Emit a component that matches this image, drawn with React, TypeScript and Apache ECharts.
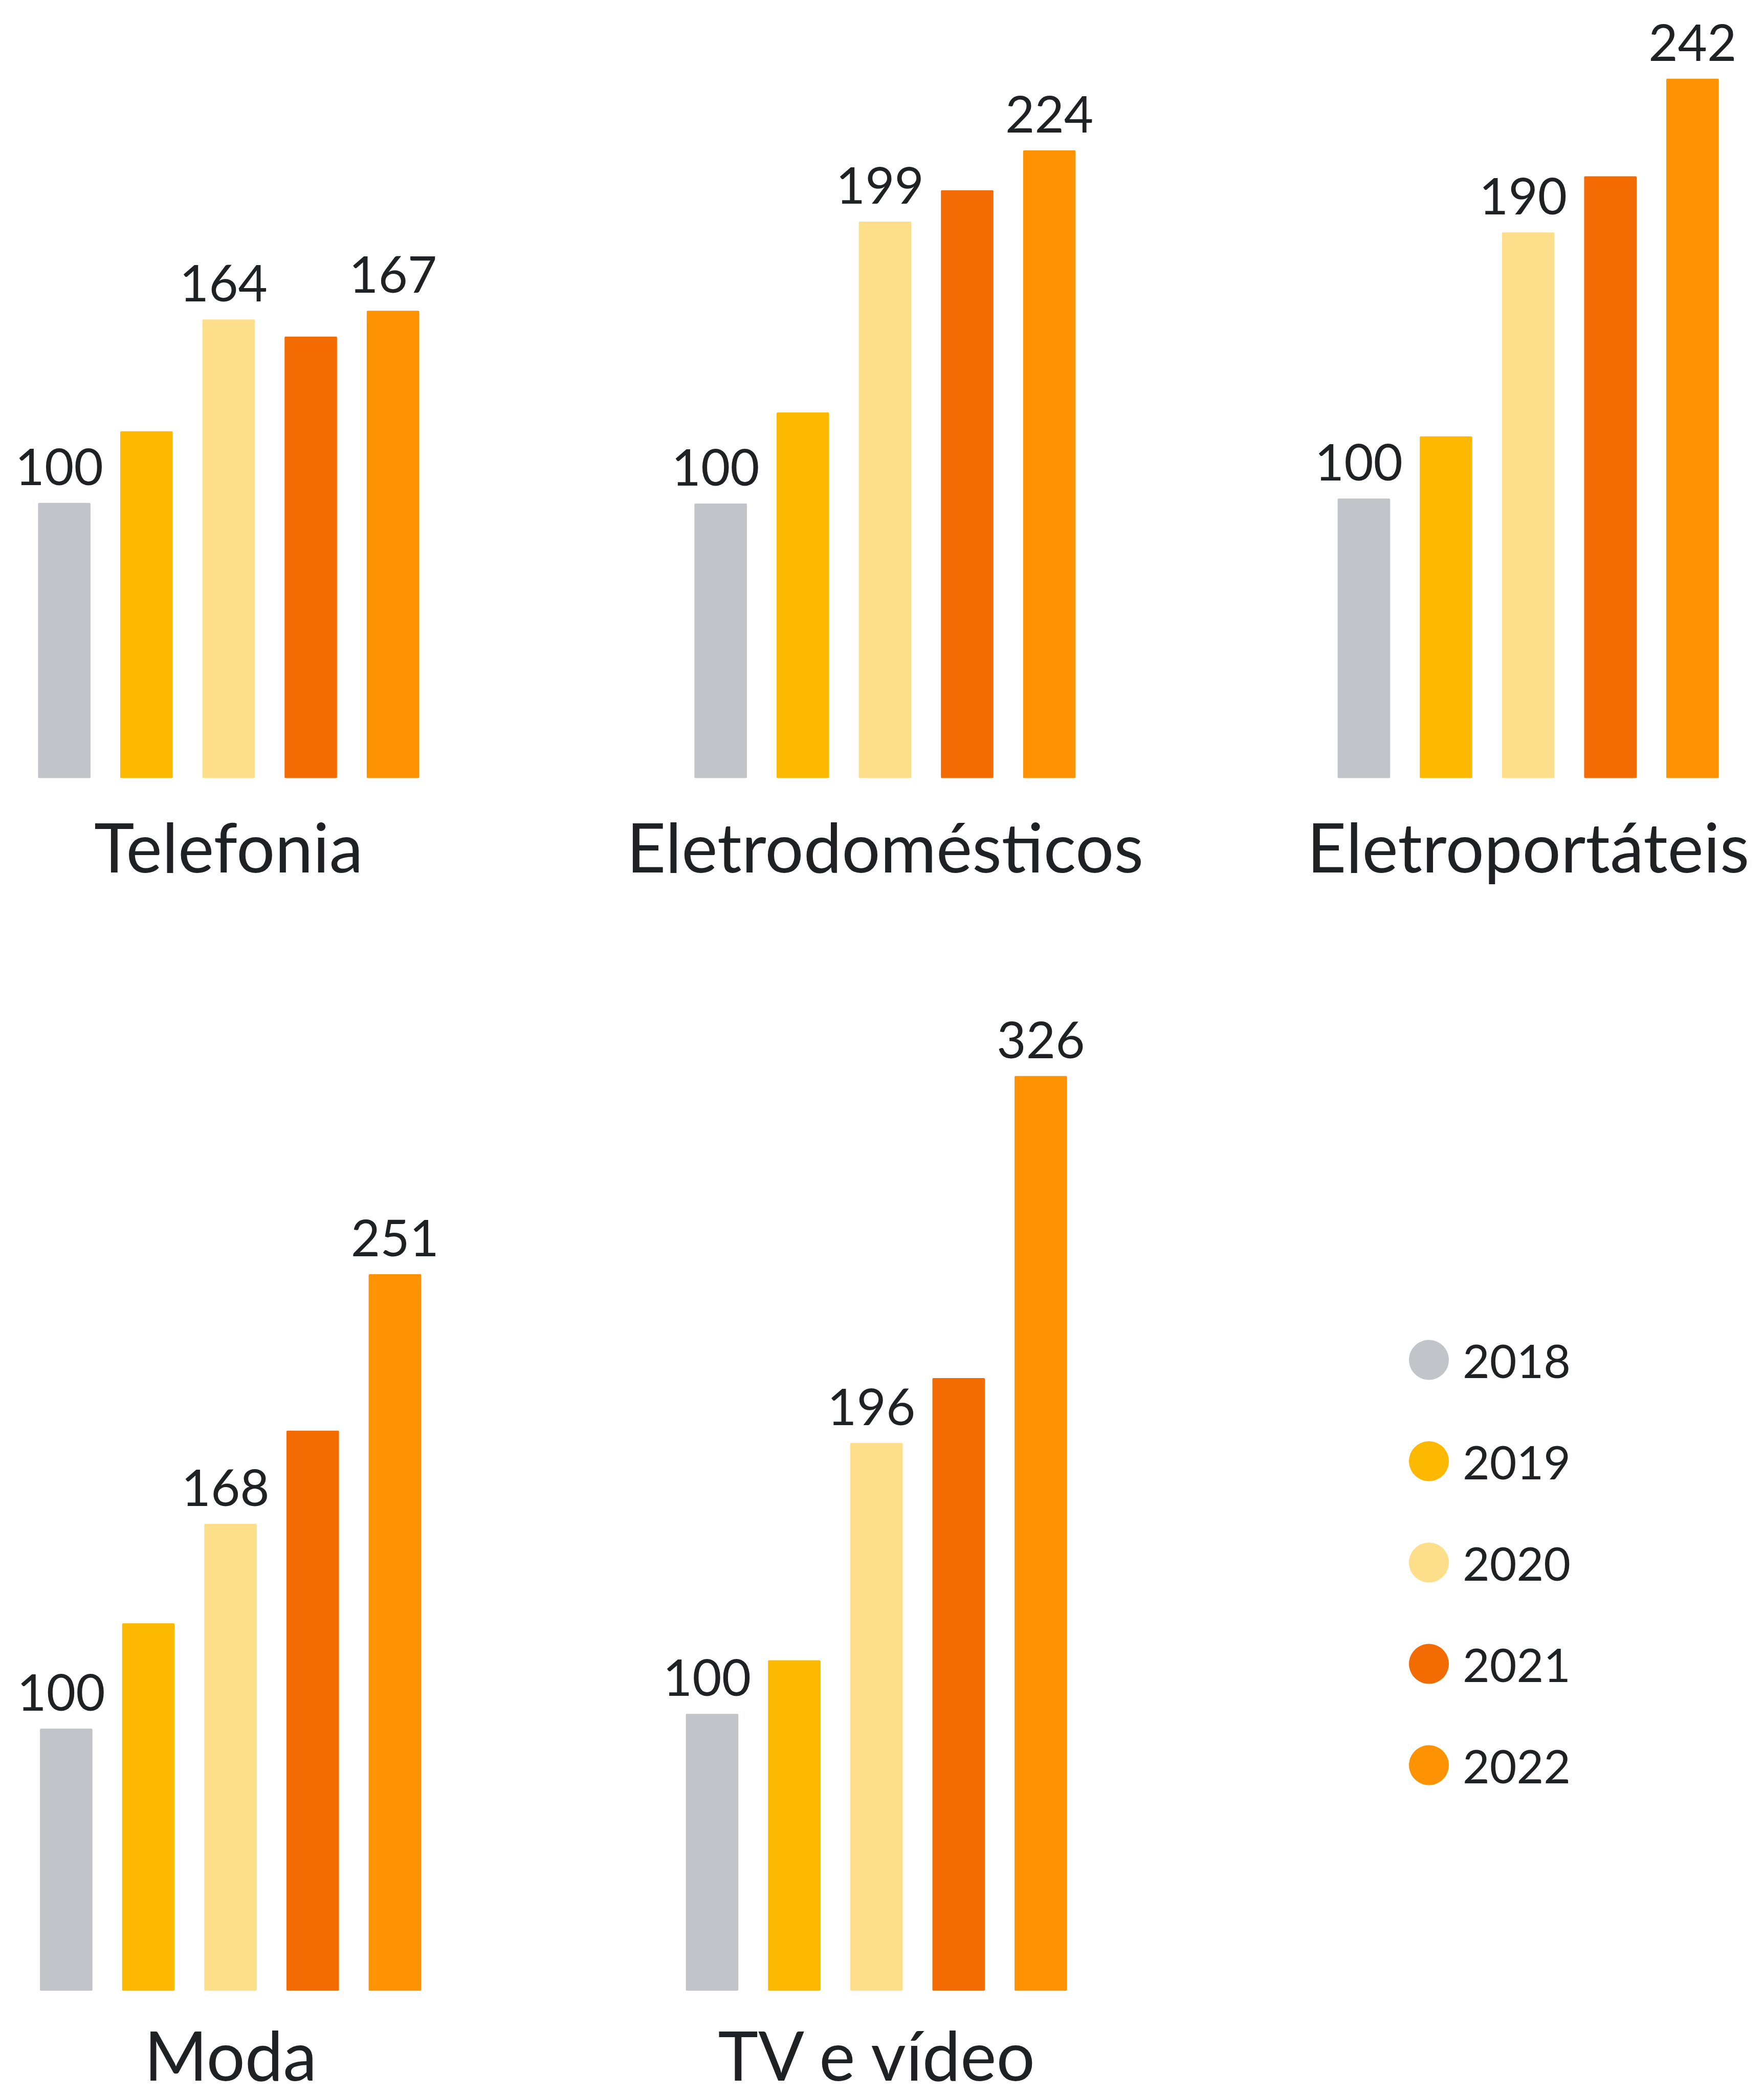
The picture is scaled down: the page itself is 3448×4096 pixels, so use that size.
import React, { useEffect, useRef } from "react";
import * as echarts from "echarts";

// ---------- data ----------
const categories = ["Telefonia", "Eletrodomésticos", "Eletroportáteis", "Moda", "TV e vídeo"];
const years = ["2018", "2019", "2020", "2021", "2022"];
const v2018 = [100, 100, 100, 100, 100];
const v2019 = [125, 132, 121, 135, 119];
const v2020 = [164, 199, 190, 168, 196];
const v2021 = [158, 210, 209, 199, 219];
const v2022 = [167, 224, 242, 251, 326];
const labelledYears = ["2018", "2020", "2022"];

// ---------- styles / layout ----------
const yearColors = ["#C1C4C8", "#FDB901", "#FDDE8A", "#F36C03", "#FD9302"];
const S = 3448 / 4873; // reference px -> output px
const FONT = "Lato";
const TEXT = "#202124";

// layout in reference pixels
const panelCenter = [631.6, 2444.8, 4221.6, 636.9, 2421.2];
const panelBaseline = [2149, 2149, 2149, 5498, 5498];
const panelTop = [60, 60, 60, 2700, 2700];
const panelAxisMin = [4.04, 3.63, 5.44, 12.93, 1.94];
const panelPxPerUnit = [7.92, 7.868, 8.166, 8.313, 7.796];
const panelLabelMargin = [83, 83, 83, 74, 74]; // output px
const BAND = 227;
const BAR = 145;

function buildOption() {
  const values = [v2018, v2019, v2020, v2021, v2022];
  const grid: any[] = [];
  const xAxis: any[] = [];
  const yAxis: any[] = [];
  const allSeries: any[] = [];

  categories.forEach((cat, i) => {
    const width = BAND * 5;
    grid.push({
      left: (panelCenter[i] - width / 2) * S,
      width: width * S,
      top: panelTop[i] * S,
      height: (panelBaseline[i] - panelTop[i]) * S,
      containLabel: false,
    });
    xAxis.push({
      type: "category",
      gridIndex: i,
      data: [cat],
      axisLine: { show: false, onZero: false },
      axisTick: { show: false },
      axisLabel: {
        interval: 0,
        margin: panelLabelMargin[i],
        fontSize: 133,
        lineHeight: 100,
        fontFamily: FONT,
        color: TEXT,
      },
      splitLine: { show: false },
    });
    const min = panelAxisMin[i];
    yAxis.push({
      type: "value",
      gridIndex: i,
      show: false,
      min,
      max: min + (panelBaseline[i] - panelTop[i]) / panelPxPerUnit[i],
      splitLine: { show: false },
    });
    years.forEach((yr, j) => {
      const labelled = labelledYears.includes(yr);
      allSeries.push({
        type: "bar",
        name: yr,
        xAxisIndex: i,
        yAxisIndex: i,
        data: [values[j][i]],
        barWidth: BAR * S,
        barGap: ((BAND - BAR) / BAR) * 100 + "%",
        clip: true,
        itemStyle: { color: yearColors[j], borderRadius: 2 },
        label: {
          show: labelled,
          position: "top",
          distance: 24,
          offset: yr === "2022" ? [0, 0] : [-10, 0],
          fontSize: 99,
          fontFamily: FONT,
          color: TEXT,
        },
        emphasis: { disabled: true },
      });
    });
  });

  return {
    animation: false,
    backgroundColor: "#ffffff",
    textStyle: { fontFamily: FONT },
    grid,
    xAxis,
    yAxis,
    legend: {
      data: years,
      orient: "vertical",
      left: 2749,
      top: 2607,
      icon: "circle",
      itemWidth: 78,
      itemHeight: 78,
      itemGap: 107,
      selectedMode: false,
      textStyle: {
        fontSize: 91,
        lineHeight: 91,
        fontFamily: FONT,
        color: TEXT,
        padding: [0, 0, 0, 22],
      },
    },
    series: allSeries,
  };
}

export default function App() {
  const ref = useRef<HTMLDivElement>(null);
  useEffect(() => {
    document.body.style.margin = "0";
    document.body.style.overflow = "hidden";
    if (!ref.current) return;
    const chart = echarts.init(ref.current, null, { renderer: "svg" });
    chart.setOption(buildOption() as any);
    return () => chart.dispose();
  }, []);
  return <div ref={ref} style={{ width: 3448, height: 4096 }} />;
}
